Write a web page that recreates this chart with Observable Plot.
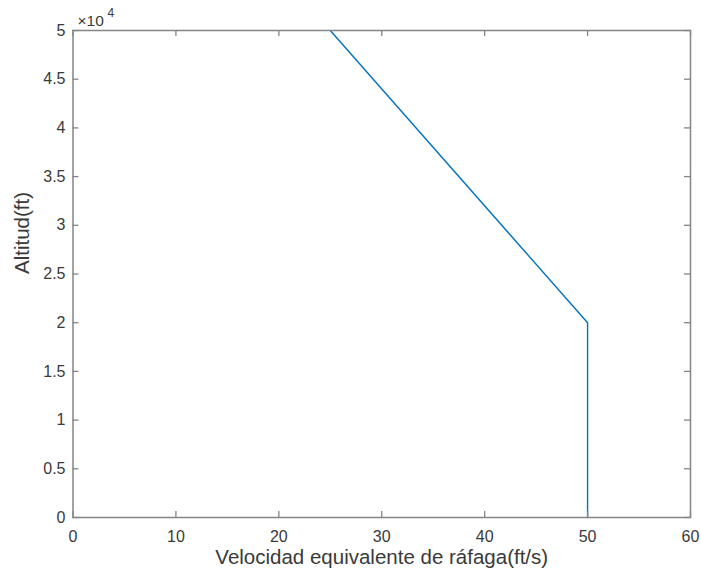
<!DOCTYPE html>
<html>
<head>
<meta charset="utf-8">
<script src="https://cdn.jsdelivr.net/npm/d3@7"></script>
<script src="https://cdn.jsdelivr.net/npm/@observablehq/plot@0.6"></script>
<style>
  html, body { margin: 0; padding: 0; background: #fff; }
  #chart svg { display: block; }
</style>
</head>
<body>
<div id="chart"></div>
<script>
// Data: gust equivalent velocity (ft/s) vs altitude (ft)
const velocity = [50, 50, 25];
const altitude = [0, 20000, 50000];

const xTicks = [0, 10, 20, 30, 40, 50, 60];
const yTicks = [0, 5000, 10000, 15000, 20000, 25000, 30000, 35000, 40000, 45000, 50000];
const yTickLabels = ["0", "0.5", "1", "1.5", "2", "2.5", "3", "3.5", "4", "4.5", "5"];

const xLabel = "Velocidad equivalente de ráfaga(ft/s)";
const yLabel = "Altitud(ft)";
const exponentBase = "×10";
const exponentPower = "4";

const points = velocity.map((v, i) => ({v, a: altitude[i]}));

const W = 701, H = 578;
const mL = 72.5, mR = 11, mT = 30, mB = 61;
const innerH = H - mT - mB;
const innerW = W - mL - mR;
const axisColor = "#858585";
const textColor = "#3a3a3a";
const tickLen = 6;

const chart = Plot.plot({
  width: W,
  height: H,
  marginLeft: mL,
  marginRight: mR,
  marginTop: mT,
  marginBottom: mB,
  style: {fontFamily: "'Liberation Sans', Arial, sans-serif", fontSize: "16px", color: textColor, background: "#fff"},
  x: {domain: [0, 60]},
  y: {domain: [0, 50000]},
  marks: [
    Plot.line(points, {x: "v", y: "a", stroke: "#0072BD", strokeWidth: 1.4}),
    // inner tick marks on all four sides
    Plot.tickX(xTicks, {x: d => d, insetTop: innerH - tickLen, stroke: axisColor, strokeWidth: 1.3}),
    Plot.tickX(xTicks, {x: d => d, insetBottom: innerH - tickLen, stroke: axisColor, strokeWidth: 1.3}),
    Plot.tickY(yTicks, {y: d => d, insetRight: innerW - tickLen, stroke: axisColor, strokeWidth: 1.3}),
    Plot.tickY(yTicks, {y: d => d, insetLeft: innerW - tickLen, stroke: axisColor, strokeWidth: 1.3}),
    Plot.frame({stroke: axisColor, strokeWidth: 1.5}),
    Plot.axisX({ticks: xTicks, tickSize: 0, tickPadding: 13, label: null, fill: textColor, fontSize: 16}),
    Plot.axisY({ticks: yTicks, tickFormat: d => yTickLabels[yTicks.indexOf(d)], tickSize: 0, tickPadding: 7.5, label: null, fill: textColor, fontSize: 16}),
    Plot.text([xLabel], {text: d => d, frameAnchor: "bottom", dy: 46, fontSize: 20.5, fill: textColor}),
    Plot.text([yLabel], {text: d => d, frameAnchor: "left", dx: -50.5, rotate: -90, fontSize: 20.5, fill: textColor}),
    Plot.text([exponentBase], {text: d => d, frameAnchor: "top-left", dx: 4.5, dy: -5, lineAnchor: "bottom", textAnchor: "start", fontSize: 15.5, fill: textColor}),
    Plot.text([exponentPower], {text: d => d, frameAnchor: "top-left", dx: 34.5, dy: -13.3, lineAnchor: "bottom", textAnchor: "start", fontSize: 12, fill: textColor})
  ]
});

document.getElementById("chart").appendChild(chart);
</script>
</body>
</html>
